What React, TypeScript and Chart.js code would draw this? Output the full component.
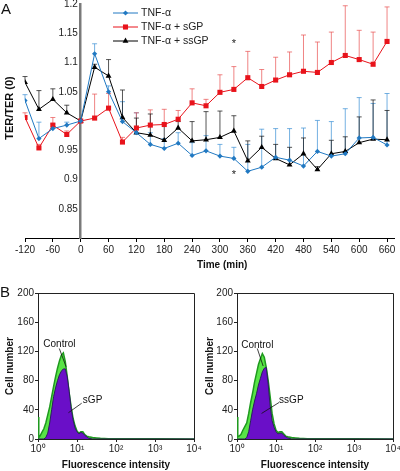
import React, { useEffect, useRef } from 'react';
import { Chart, registerables } from 'chart.js';

Chart.register(...registerables);

const FONT = '"Liberation Sans", Arial, Helvetica, sans-serif';
Chart.defaults.font.family = FONT;
Chart.defaults.color = '#222';

// ---------- Panel A data ----------
const TIMES = [-120, -90, -60, -30, 0, 30, 60, 90, 120, 150, 180, 210, 240, 270, 300, 330, 360, 390, 420, 450, 480, 510, 540, 570, 600, 630, 660];
const TNF = [1.035, 0.970, 0.987, 0.993, 1.0, 1.115, 1.050, 0.999, 0.980, 0.960, 0.953, 0.962, 0.941, 0.949, 0.940, 0.936, 0.914, 0.921, 0.938, 0.933, 0.923, 0.948, 0.940, 0.944, 0.971, 0.972, 0.959];
const TNF_ERR = [0.010, 0.028, 0.008, 0.005, 0, 0.017, 0.010, 0.034, 0.034, 0.020, 0.017, 0.018, 0.022, 0.026, 0.020, 0.019, 0.046, 0.065, 0.049, 0.054, 0.065, 0.053, 0.059, 0.077, 0.069, 0.058, 0.088];
const TNF_SGP = [1.006, 0.954, 0.993, 0.977, 1.0, 1.005, 1.022, 0.964, 0.988, 0.993, 0.994, 1.003, 1.031, 1.026, 1.049, 1.054, 1.074, 1.059, 1.070, 1.079, 1.085, 1.083, 1.100, 1.112, 1.105, 1.097, 1.136];
const TNF_SGP_ERR = [0.008, 0.006, 0.013, 0.006, 0, 0.041, 0.025, 0.008, 0.026, 0.026, 0.026, 0.015, 0.024, 0.011, 0.030, 0.039, 0.045, 0.029, 0.039, 0.039, 0.062, 0.052, 0.052, 0.085, 0.050, 0.055, 0.059];
const TNF_SSGP = [1.066, 1.020, 1.037, 1.014, 1.0, 1.092, 1.077, 1.006, 0.980, 0.976, 0.967, 0.988, 0.966, 0.968, 0.972, 0.983, 0.932, 0.955, 0.936, 0.925, 0.944, 0.917, 0.944, 0.948, 0.963, 0.969, 0.968];
const TNF_SSGP_ERR = [0.010, 0.032, 0.018, 0.013, 0, 0.005, 0.028, 0.047, 0.025, 0.036, 0.028, 0.011, 0.033, 0.048, 0.045, 0.026, 0.034, 0.019, 0.024, 0.030, 0.027, 0.005, 0.023, 0.025, 0.044, 0.067, 0.050];
const SERIES_LABELS = ['TNF-\u03b1', 'TNF-\u03b1 + sGP', 'TNF-\u03b1 + ssGP'];
const X_TICKS_A = [-120, -60, 0, 60, 120, 180, 240, 300, 360, 420, 480, 540, 600, 660];
const Y_TICKS_A = [0.85, 0.9, 0.95, 1.0, 1.05, 1.1, 1.15, 1.2];
const ASTERISKS = [{ t: 330, v: 1.132 }, { t: 330, v: 0.908 }];

// ---------- Panel B data (log10 fluorescence vs cell count) ----------
const HIST_LOG = [0, 0.02, 0.05, 0.1, 0.15, 0.2, 0.25, 0.3, 0.35, 0.4, 0.45, 0.5, 0.55, 0.6, 0.65, 0.7, 0.75, 0.8, 0.85, 0.9, 0.95, 1.0, 1.05, 1.1, 1.15, 1.2, 1.25, 1.3, 1.4, 1.5, 1.6, 1.8, 2.0, 3.0, 4.0];
const CONTROL_L = [30, 2, 4, 9, 14, 22, 33, 44, 58, 72, 85, 97, 107, 115, 118, 106, 85, 63, 44, 28, 18, 11, 8, 10, 10, 6, 4, 3, 2, 1.5, 1, 0.5, 0.3, 0.2, 0];
const SGP = [0, 0, 0, 0, 0, 2, 8, 22, 40, 58, 70, 80, 88, 93, 96, 96, 85, 65, 42, 26, 15, 10, 7, 9, 8, 5, 3, 1, 0, 0, 0, 0, 0, 0, 0];
const CONTROL_R = [30, 3, 4, 6, 12, 17, 22, 35, 50, 63, 78, 90, 102, 110, 117, 112, 98, 80, 58, 35, 21, 12, 9, 10, 10, 7, 4, 3, 2, 1.5, 1, 0.5, 0.3, 0.2, 0];
const SSGP = [0, 0, 0, 0, 0, 0, 2, 10, 25, 40, 52, 62, 74, 83, 92, 97, 98, 75, 45, 25, 16, 10, 7, 8, 8, 5, 3, 1.5, 0, 0, 0, 0, 0, 0, 0];
const X_TICKS_B = [0, 1, 2, 3, 4];
const X_LABELS_B = ['10\u2070', '10\u00b9', '10\u00b2', '10\u00b3', '10\u2074'];
const Y_TICKS_B = [0, 40, 80, 120, 160, 200];

const POINTERS_L = [
  { text: 'Control', align: 'center', tx: 0.55, ty: 130, x1: 0.546, y1: 124, x2: 0.72, y2: 99 },
  { text: 'sGP', align: 'left', tx: 1.15, ty: 53, x1: 1.12, y1: 49, x2: 0.78, y2: 36 },
];
const POINTERS_R = [
  { text: 'Control', align: 'center', tx: 0.52, ty: 129, x1: 0.52, y1: 124, x2: 0.67, y2: 100 },
  { text: 'ssGP', align: 'left', tx: 1.08, ty: 53, x1: 1.077, y1: 50, x2: 0.63, y2: 35 },
];

function drawMarker(ctx: CanvasRenderingContext2D, style: string, x: number, y: number, r: number, color: string) {
  ctx.save();
  ctx.fillStyle = color;
  ctx.beginPath();
  if (style === 'rectRot') {
    ctx.moveTo(x, y - r); ctx.lineTo(x + r, y); ctx.lineTo(x, y + r); ctx.lineTo(x - r, y);
  } else if (style === 'rect') {
    const s = r * Math.SQRT1_2;
    ctx.rect(x - s, y - s, 2 * s, 2 * s);
  } else {
    const h = r * 1.5;
    ctx.moveTo(x, y - r); ctx.lineTo(x + r * 0.866, y + h - r); ctx.lineTo(x - r * 0.866, y + h - r);
  }
  ctx.closePath();
  ctx.fill();
  ctx.restore();
}

const errorBarPlugin = {
  id: 'errorBars',
  beforeDatasetsDraw(chart: any) {
    const { ctx } = chart;
    const ys = chart.scales.y;
    chart.data.datasets.forEach((ds: any, i: number) => {
      if (!ds.errUp) return;
      const meta = chart.getDatasetMeta(i);
      ctx.save();
      ctx.strokeStyle = ds.errColor;
      ctx.lineWidth = 1;
      meta.data.forEach((pt: any, j: number) => {
        const e = ds.errUp[j];
        if (!e) return;
        const top = ys.getPixelForValue(ds.data[j].y + e);
        ctx.beginPath();
        ctx.moveTo(pt.x, pt.y);
        ctx.lineTo(pt.x, top);
        ctx.moveTo(pt.x - 2.5, top);
        ctx.lineTo(pt.x + 2.5, top);
        ctx.stroke();
      });
      ctx.restore();
    });
  },
};

const insideLegendPlugin = {
  id: 'insideLegend',
  afterDraw(chart: any) {
    const { ctx } = chart;
    const x0 = 113, len = 25, y0 = 13, dy = 14;
    chart.data.datasets.forEach((ds: any, i: number) => {
      const y = y0 + i * dy;
      ctx.save();
      ctx.strokeStyle = ds.borderColor;
      ctx.lineWidth = 1;
      ctx.beginPath();
      ctx.moveTo(x0, y);
      ctx.lineTo(x0 + len, y);
      ctx.stroke();
      drawMarker(ctx, ds.pointStyle, x0 + len / 2, y, ds.pointRadius, ds.borderColor);
      ctx.fillStyle = '#222';
      ctx.font = `10.5px ${FONT}`;
      ctx.textAlign = 'left';
      ctx.textBaseline = 'middle';
      ctx.fillText(ds.label, x0 + len + 3, y + 0.5);
      ctx.restore();
    });
  },
};

const asteriskPlugin = {
  id: 'asterisks',
  afterDatasetsDraw(chart: any) {
    const { ctx } = chart;
    ctx.save();
    ctx.fillStyle = '#222';
    ctx.font = `11px ${FONT}`;
    ctx.textAlign = 'center';
    ctx.textBaseline = 'middle';
    ASTERISKS.forEach((a) => {
      ctx.fillText('*', chart.scales.x.getPixelForValue(a.t), chart.scales.y.getPixelForValue(a.v));
    });
    ctx.restore();
  },
};

function makePointerPlugin(items: any[]) {
  return {
    id: 'pointers',
    afterDatasetsDraw(chart: any) {
      const { ctx } = chart;
      const xs = chart.scales.x, ys = chart.scales.y;
      ctx.save();
      items.forEach((it) => {
        ctx.font = `10px ${FONT}`;
        ctx.fillStyle = '#111';
        ctx.textAlign = it.align;
        ctx.textBaseline = 'middle';
        ctx.fillText(it.text, xs.getPixelForValue(it.tx), ys.getPixelForValue(it.ty));
        ctx.strokeStyle = '#111';
        ctx.lineWidth = 0.8;
        ctx.beginPath();
        ctx.moveTo(xs.getPixelForValue(it.x1), ys.getPixelForValue(it.y1));
        ctx.lineTo(xs.getPixelForValue(it.x2), ys.getPixelForValue(it.y2));
        ctx.stroke();
      });
      ctx.restore();
    },
  };
}

const framePlugin = {
  id: 'frame',
  afterDraw(chart: any) {
    const { ctx, chartArea: a } = chart;
    ctx.save();
    ctx.strokeStyle = '#222';
    ctx.lineWidth = 1;
    ctx.beginPath();
    ctx.moveTo(Math.round(a.left) + 0.5, Math.round(a.top) + 0.5);
    ctx.lineTo(Math.round(a.right) + 0.5, Math.round(a.top) + 0.5);
    ctx.lineTo(Math.round(a.right) + 0.5, Math.round(a.bottom) + 0.5);
    ctx.stroke();
    ctx.restore();
  },
};

function panelAConfig(): any {
  const mk = (vals: number[]) => TIMES.map((t, i) => ({ x: t, y: vals[i] }));
  return {
    type: 'line',
    data: {
      datasets: [
        { label: SERIES_LABELS[0], data: mk(TNF), errUp: TNF_ERR, errColor: 'rgba(70,150,215,0.75)', borderColor: '#2179c2', backgroundColor: '#2179c2', pointStyle: 'rectRot', pointRadius: 2.6, borderWidth: 1, pointBorderWidth: 0 },
        { label: SERIES_LABELS[1], data: mk(TNF_SGP), errUp: TNF_SGP_ERR, errColor: 'rgba(232,80,80,0.7)', borderColor: '#e8131b', backgroundColor: '#e8131b', pointStyle: 'rect', pointRadius: 3.6, borderWidth: 1, pointBorderWidth: 0 },
        { label: SERIES_LABELS[2], data: mk(TNF_SSGP), errUp: TNF_SSGP_ERR, errColor: 'rgba(30,30,30,0.75)', borderColor: '#000000', backgroundColor: '#000000', pointStyle: 'triangle', pointRadius: 3.4, borderWidth: 1, pointBorderWidth: 0 },
      ],
    },
    options: {
      responsive: false,
      maintainAspectRatio: false,
      animation: false,
      devicePixelRatio: 1,
      layout: { padding: { left: 25, right: 6, top: 4, bottom: 0 } },
      plugins: { legend: { display: false }, tooltip: { enabled: false } },
      scales: {
        x: {
          type: 'linear', min: -120, max: 675,
          afterBuildTicks: (s: any) => { s.ticks = X_TICKS_A.map((v) => ({ value: v })); },
          afterFit: (s: any) => { s.height = 39; s.paddingLeft = 0; s.paddingRight = 0; },
          ticks: { font: { size: 10 }, color: '#222', padding: 2, maxRotation: 0, autoSkip: false },
          grid: { display: true, drawOnChartArea: false, drawTicks: true, tickLength: 4, color: '#000' },
          border: { display: true, color: '#000', width: 1 },
        },
        y: {
          type: 'linear', min: 0.8, max: 1.2, position: { x: 0 },
          afterBuildTicks: (s: any) => { s.ticks = Y_TICKS_A.map((v) => ({ value: v })); },
          afterFit: (s: any) => { s.paddingTop = 0; s.paddingBottom = 0; },
          ticks: { font: { size: 10 }, color: '#222', padding: 4, autoSkip: false, callback: (v: number) => (v === 1 ? '' : String(v) + ' ') },
          grid: { display: false },
          border: { display: true, color: '#7a7a7a', width: 2.5 },
        },
      },
    },
    plugins: [errorBarPlugin, asteriskPlugin, insideLegendPlugin],
  };
}

function histConfig(control: number[], treated: number[], pointers: any[], yWidth: number, rightPad: number): any {
  const mk = (vals: number[]) => HIST_LOG.map((l, i) => ({ x: l, y: vals[i] }));
  return {
    type: 'line',
    data: {
      datasets: [
        { label: 'Treated', data: mk(treated), fill: 'origin', backgroundColor: '#6a0fc8', borderColor: '#2a1d5e', borderWidth: 1, pointRadius: 0, tension: 0 },
        { label: 'Control', data: mk(control), fill: 'origin', backgroundColor: 'rgba(70,225,50,0.9)', borderColor: '#1f9a1f', borderWidth: 1.5, pointRadius: 0, tension: 0 },
      ],
    },
    options: {
      responsive: false,
      maintainAspectRatio: false,
      animation: false,
      devicePixelRatio: 1,
      layout: { padding: { left: 0, right: rightPad, top: 13, bottom: 0 } },
      plugins: { legend: { display: false }, tooltip: { enabled: false } },
      scales: {
        x: {
          type: 'linear', min: 0, max: 4,
          afterBuildTicks: (s: any) => { s.ticks = X_TICKS_B.map((v) => ({ value: v })); },
          afterFit: (s: any) => { s.height = 32; s.paddingLeft = 0; s.paddingRight = 0; },
          ticks: { font: { size: 10 }, color: '#222', padding: 1, maxRotation: 0, autoSkip: false, callback: (_v: number, i: number) => X_LABELS_B[i] },
          grid: { display: true, drawOnChartArea: false, drawTicks: true, tickLength: 3, color: '#222' },
          border: { display: true, color: '#222', width: 1 },
          title: { display: true, text: 'Fluorescence intensity', font: { size: 10, weight: 'bold' }, color: '#111', padding: { top: 0, bottom: 0 } },
        },
        y: {
          type: 'linear', min: 0, max: 200,
          afterBuildTicks: (s: any) => { s.ticks = Y_TICKS_B.map((v) => ({ value: v })); },
          afterFit: (s: any) => { s.width = yWidth; s.paddingTop = 0; s.paddingBottom = 0; },
          ticks: { font: { size: 10 }, color: '#222', padding: 1, autoSkip: false },
          grid: { display: true, drawOnChartArea: false, drawTicks: true, tickLength: 3, color: '#222' },
          border: { display: true, color: '#222', width: 1 },
          title: { display: true, text: 'Cell number', font: { size: 10, weight: 'bold' }, color: '#111', padding: { top: 4, bottom: 0 } },
        },
      },
    },
    plugins: [framePlugin, makePointerPlugin(pointers)],
  };
}

export default function App() {
  const aRef = useRef<HTMLCanvasElement>(null);
  const b1Ref = useRef<HTMLCanvasElement>(null);
  const b2Ref = useRef<HTMLCanvasElement>(null);

  useEffect(() => {
    const charts = [
      new Chart(aRef.current as HTMLCanvasElement, panelAConfig()),
      new Chart(b1Ref.current as HTMLCanvasElement, histConfig(CONTROL_L, SGP, POINTERS_L, 38, 16)),
      new Chart(b2Ref.current as HTMLCanvasElement, histConfig(CONTROL_R, SSGP, POINTERS_R, 37, 7)),
    ];
    return () => charts.forEach((c) => c.destroy());
  }, []);

  const abs = (s: React.CSSProperties): React.CSSProperties => ({ position: 'absolute', ...s });

  return (
    <div style={abs({ left: 0, top: 0, width: 400, height: 471, background: '#fff', fontFamily: FONT, color: '#111', overflow: 'hidden' })}>
      <canvas ref={aRef} width={400} height={277} style={abs({ left: 0, top: 0 })} />
      <canvas ref={b1Ref} width={210} height={191} style={abs({ left: 0, top: 280 })} />
      <canvas ref={b2Ref} width={200} height={191} style={abs({ left: 200, top: 280 })} />
      <div style={abs({ left: 1, top: 1, fontSize: 15, lineHeight: '15px' })}>A</div>
      <div style={abs({ left: 0, top: 284, fontSize: 15, lineHeight: '15px' })}>B</div>
      <div style={abs({ left: 9 - 40, top: 108 - 7, width: 80, textAlign: 'center', fontSize: 11, fontWeight: 'bold', lineHeight: '14px', transform: 'rotate(-90deg)', whiteSpace: 'nowrap' })}>TER/TER (0)</div>
      <div style={abs({ left: 197, top: 259, fontSize: 10, fontWeight: 'bold', lineHeight: '12px', whiteSpace: 'nowrap' })}>Time (min)</div>
    </div>
  );
}
